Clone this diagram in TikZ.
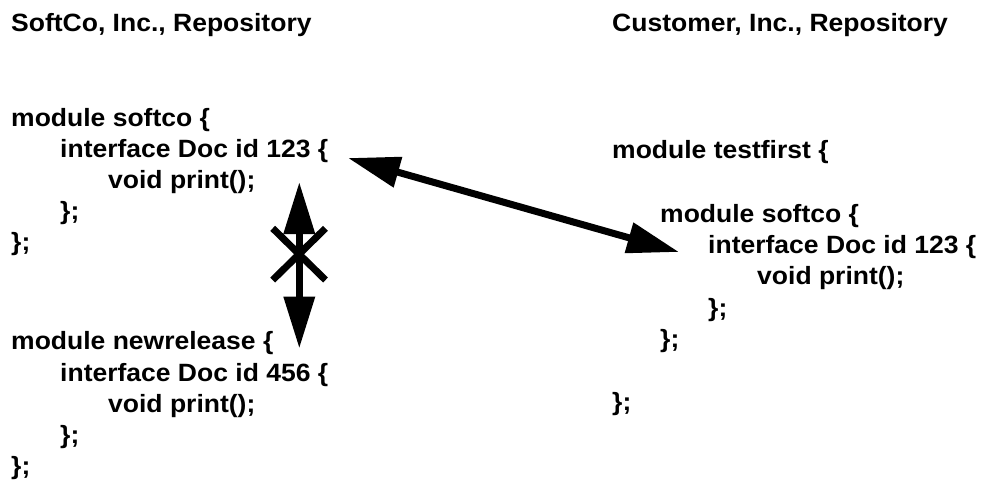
\documentclass[tikz,border=0pt]{standalone}
\usepackage{fontspec}
\setmainfont[FakeStretch=1.06]{Liberation Sans}
\usetikzlibrary{arrows.meta}
\begin{document}
\begin{tikzpicture}[x=1pt,y=-1pt,
  codeline/.style={anchor=base west,inner sep=0pt,font=\fontsize{25}{30}\selectfont\bfseries},
  bigarrow/.style={line width=7pt,{Triangle[length=52pt,width=30pt]}-{Triangle[length=52pt,width=30pt]}},
  crossline/.style={line width=7pt,line cap=butt}]
\useasboundingbox (0,0) rectangle (982,485);
% left repository
\node[codeline] (L0) at (11,31) {SoftCo, Inc., Repository};
\node[codeline] (L1) at (11,126) {module softco \{};
\node[codeline] (L2) at (60,157) {interface Doc id 123 \{};
\node[codeline] (L3) at (108,188) {void print();};
\node[codeline] (L4) at (60,219) {\};};
\node[codeline] (L5) at (11,250) {\};};
\node[codeline] (L6) at (11,349.5) {module newrelease \{};
\node[codeline] (L7) at (60,381) {interface Doc id 456 \{};
\node[codeline] (L8) at (108,412) {void print();};
\node[codeline] (L9) at (60,443.5) {\};};
\node[codeline] (L10) at (11,474.5) {\};};
% right repository
\node[codeline] (R0) at (612,31) {Customer, Inc., Repository};
\node[codeline] (R1) at (612,158) {module testfirst \{};
\node[codeline] (R2) at (660,222) {module softco \{};
\node[codeline] (R3) at (708,253) {interface Doc id 123 \{};
\node[codeline] (R4) at (757,284.5) {void print();};
\node[codeline] (R5) at (708,316) {\};};
\node[codeline] (R6) at (660,347) {\};};
\node[codeline] (R7) at (612,410) {\};};
% arrow end points
\coordinate (dA) at (348,158);
\coordinate (dB) at (679,252);
\coordinate (vA) at (299.3,182);
\coordinate (vB) at (299.3,348.5);
\coordinate (xTL) at (272.7,228.3);
\coordinate (xBR) at (325.5,280);
\coordinate (xTR) at (325.5,228.3);
\coordinate (xBL) at (272.7,280);
% connectors
\draw[bigarrow] (dA) -- (dB);
\draw[bigarrow] (vA) -- (vB);
\draw[crossline] (xTL) -- (xBR);
\draw[crossline] (xTR) -- (xBL);
\end{tikzpicture}
\end{document}
